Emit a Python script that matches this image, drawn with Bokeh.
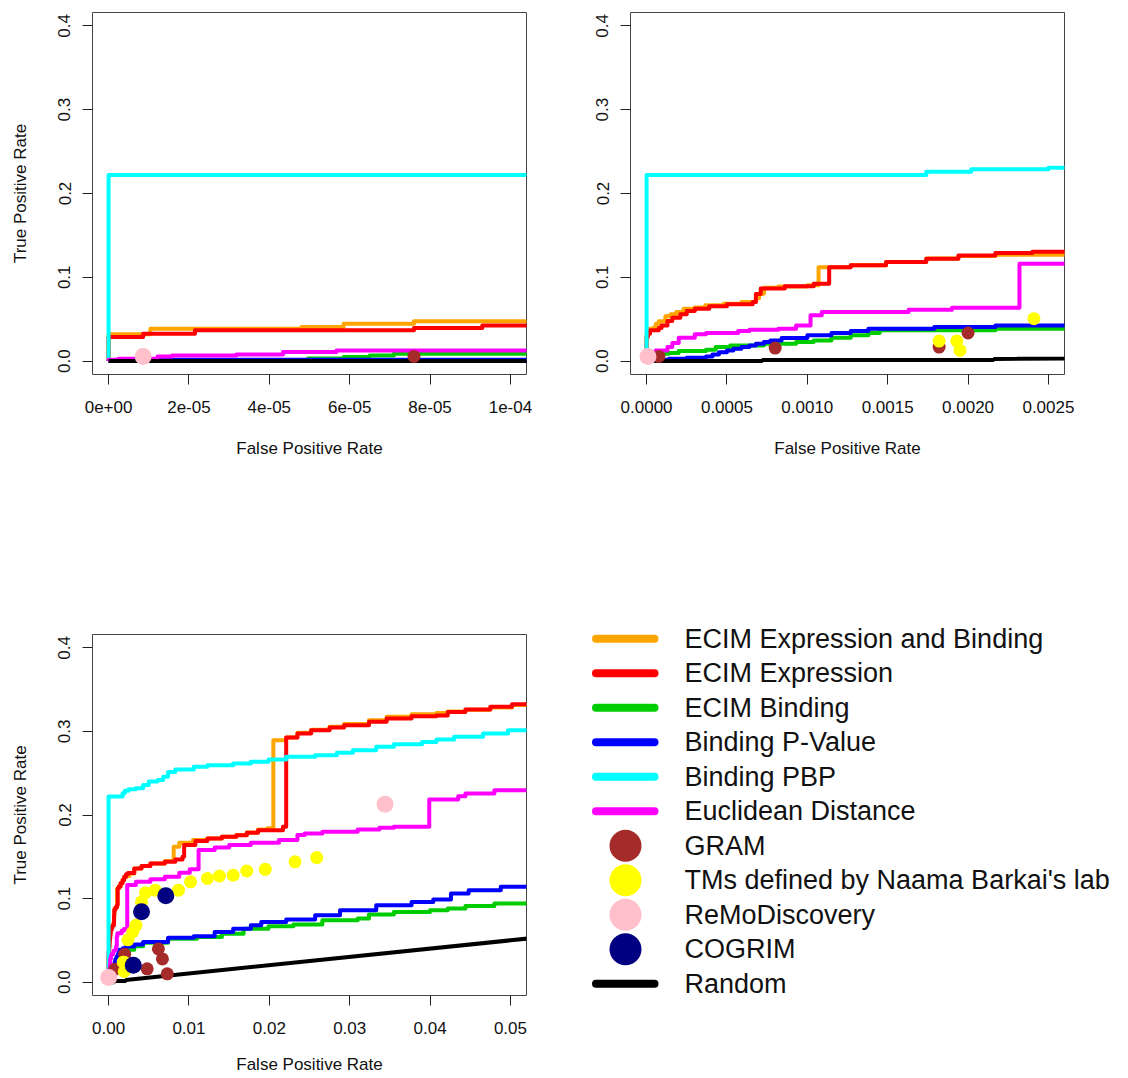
from bokeh.plotting import figure
from bokeh.layouts import row, column
from bokeh.models import Range1d, FixedTicker
from bokeh.core.properties import value
from bokeh.embed import file_html
from bokeh.resources import INLINE

# ---------------- data ----------------
ORANGE_X = [0, 0, 1.04e-5, 4.8e-5, 5.85e-5, 7.6e-5, 1.17e-4, 1.5e-4, 1.85e-4, 2.3e-4, 3.0e-4, 3.65e-4,
            4.8e-4, 5.9e-4, 6.8e-4, 7.0e-4, 7.3e-4, 8.2e-4, 1.0e-3, 1.07e-3, 1.27e-3, 1.49e-3, 1.74e-3,
            1.94e-3, 2.17e-3, 2.6e-3, 3.2e-3, 4.1e-3, 5.2e-3, 7.0e-3, 8.1e-3, 8.8e-3, 1.05e-2, 1.23e-2,
            1.41e-2, 1.59e-2, 1.72e-2, 1.86e-2, 1.98e-2, 2.05e-2, 2.21e-2, 2.35e-2, 2.52e-2, 2.75e-2,
            2.93e-2, 3.24e-2, 3.46e-2, 3.77e-2, 4.08e-2, 4.22e-2, 4.44e-2, 4.75e-2, 5.02e-2, 5.3e-2]
ORANGE_Y = [0, 0.032, 0.0386, 0.0406, 0.0446, 0.0474, 0.0534, 0.056, 0.0586, 0.0625, 0.064, 0.0665,
            0.0685, 0.0705, 0.075, 0.0805, 0.0876, 0.089, 0.0904, 0.112, 0.1143, 0.1183, 0.1225,
            0.1255, 0.127, 0.13, 0.136, 0.139, 0.142, 0.145, 0.162, 0.1667, 0.17, 0.172,
            0.174, 0.176, 0.179, 0.1825, 0.184, 0.2895, 0.2927, 0.2985, 0.302, 0.3055,
            0.309, 0.3135, 0.3175, 0.3205, 0.322, 0.324, 0.326, 0.3285, 0.3315, 0.333]

RED_X = [0, 0, 8.6e-6, 2.15e-5, 7.6e-5, 9.3e-5, 1.3e-4, 1.6e-4, 2.1e-4, 2.5e-4, 3.0e-4, 3.9e-4, 5.0e-4,
         6.6e-4, 6.8e-4, 7.1e-4, 8.6e-4, 1.04e-3, 1.136e-3, 1.27e-3, 1.49e-3, 1.74e-3, 1.94e-3,
         2.17e-3, 2.4e-3, 3.2e-3, 4.1e-3, 5.2e-3, 7.0e-3, 8.3e-3, 9.2e-3, 9.4e-3, 1.08e-2, 1.23e-2,
         1.41e-2, 1.59e-2, 1.72e-2, 1.86e-2, 2.17e-2, 2.21e-2, 2.35e-2, 2.52e-2, 2.75e-2, 2.93e-2,
         3.24e-2, 3.46e-2, 3.77e-2, 4.08e-2, 4.22e-2, 4.44e-2, 4.75e-2, 5.02e-2, 5.3e-2]
RED_Y = [0, 0.0287, 0.0327, 0.0367, 0.0394, 0.0426, 0.0478, 0.0518, 0.0558, 0.0598, 0.0625, 0.0653, 0.0677,
         0.0705, 0.08, 0.0865, 0.0892, 0.0924, 0.112, 0.1143, 0.1183, 0.122, 0.126,
         0.129, 0.1305, 0.136, 0.139, 0.142, 0.144, 0.1467, 0.15, 0.164, 0.169, 0.172,
         0.174, 0.1759, 0.1787, 0.1819, 0.186, 0.2927, 0.2975, 0.3015, 0.3047, 0.3075,
         0.3115, 0.3155, 0.3182, 0.319, 0.3234, 0.3262, 0.3294, 0.3326, 0.3354]

GREEN_X = [0, 4.96e-5, 5.85e-5, 6.5e-5, 7.1e-5, 1.4e-4, 2.0e-4, 3.7e-4, 4.3e-4, 5.2e-4, 7.3e-4, 9.3e-4,
           1.04e-3, 1.15e-3, 1.27e-3, 1.38e-3, 1.45e-3, 2.17e-3, 3.2e-3, 4.3e-3, 7.4e-3, 1.1e-2,
           1.41e-2, 1.68e-2, 1.99e-2, 2.3e-2, 2.66e-2, 3.1e-2, 3.24e-2, 3.55e-2, 4.0e-2, 4.22e-2,
           4.44e-2, 4.8e-2, 5.3e-2]
GREEN_Y = [0, 0.003, 0.005, 0.0068, 0.0088, 0.0096, 0.012, 0.0135, 0.0167, 0.0187, 0.0207, 0.0227,
           0.0247, 0.0279, 0.0307, 0.0335, 0.0367, 0.0386, 0.043, 0.047, 0.052, 0.054,
           0.058, 0.064, 0.067, 0.069, 0.074, 0.076, 0.081, 0.084, 0.086, 0.088,
           0.091, 0.094, 0.099]

BLUE_X = [0, 5e-6, 1.4e-4, 2.5e-4, 3.7e-4, 4.1e-4, 4.5e-4, 5.0e-4, 5.4e-4, 5.9e-4, 6.4e-4, 6.8e-4, 7.3e-4,
          7.7e-4, 8.4e-4, 1.0e-3, 1.15e-3, 1.27e-3, 1.38e-3, 1.79e-3, 2.17e-3, 3.2e-3, 4.3e-3,
          7.4e-3, 1.06e-2, 1.32e-2, 1.55e-2, 1.77e-2, 1.9e-2, 2.21e-2, 2.57e-2, 2.88e-2, 3.33e-2,
          3.77e-2, 4.04e-2, 4.26e-2, 4.48e-2, 4.88e-2, 5.3e-2]
BLUE_Y = [0, 0.0016, 0.0028, 0.004, 0.0056, 0.008, 0.0105, 0.0127, 0.0147, 0.0167, 0.0187, 0.0207, 0.0227,
          0.0247, 0.0275, 0.0307, 0.0335, 0.0359, 0.0386, 0.0406, 0.0426, 0.045, 0.048,
          0.053, 0.055, 0.06, 0.064, 0.068, 0.072, 0.075, 0.08, 0.086, 0.092,
          0.096, 0.099, 0.106, 0.110, 0.114, 0.118]

CYAN_X = [0, 0, 1.74e-3, 2.02e-3, 2.5e-3, 3.4e-3, 4.3e-3, 5.0e-3, 6.1e-3, 6.8e-3, 7.4e-3, 8.3e-3,
          1.06e-2, 1.23e-2, 1.55e-2, 1.77e-2, 1.99e-2, 2.21e-2, 2.57e-2, 2.84e-2, 3.04e-2, 3.33e-2,
          3.55e-2, 3.9e-2, 4.08e-2, 4.3e-2, 4.66e-2, 4.97e-2, 5.3e-2]
CYAN_Y = [0, 0.222, 0.226, 0.229, 0.2307, 0.232, 0.236, 0.24, 0.242, 0.2457, 0.2516, 0.2544,
          0.2576, 0.2596, 0.2616, 0.2636, 0.2664, 0.2696, 0.2716, 0.2744, 0.2776, 0.2816,
          0.2847, 0.2875, 0.2903, 0.2935, 0.2975, 0.3015, 0.3055]

MAGENTA_X = [0, 0, 2.4e-6, 1.22e-5, 1.58e-5, 3.18e-5, 4.34e-5, 5.67e-5, 1.3e-4, 1.6e-4, 2.0e-4, 3.0e-4,
             3.7e-4, 5.7e-4, 6.4e-4, 8.2e-4, 9.3e-4, 1.02e-3, 1.09e-3, 1.63e-3, 1.9e-3, 2.32e-3,
             3.4e-3, 5.2e-3, 7.0e-3, 8.8e-3, 1.01e-2, 1.12e-2, 1.32e-2, 1.5e-2, 1.77e-2, 2.12e-2,
             2.35e-2, 2.44e-2, 2.66e-2, 3.1e-2, 3.37e-2, 3.55e-2, 3.99e-2, 4.35e-2, 4.44e-2, 4.8e-2,
             5.3e-2]
MAGENTA_Y = [0, 0.0016, 0.0028, 0.0056, 0.0068, 0.008, 0.0108, 0.0127, 0.0167, 0.0215, 0.0279, 0.0319,
             0.0335, 0.0359, 0.0375, 0.0386, 0.0426, 0.0546, 0.0586, 0.0614, 0.0637, 0.1163,
             0.12, 0.123, 0.126, 0.131, 0.135, 0.158, 0.161, 0.164, 0.1667, 0.17,
             0.176, 0.178, 0.18, 0.1827, 0.1846, 0.1858, 0.2185, 0.2225, 0.2257, 0.2297,
             0.2345]

RANDOM_X = [0, 0.00072, 0.00072, 0.00216, 0.00216, 0.053]
RANDOM_Y = [0, 0, 0.0013, 0.0013, 0.0026, 0.053]

GRAM_X = [7.6e-5, 0.0008, 0.00182, 0.0020, 0.0048, 0.0062, 0.0067, 0.0073]
GRAM_Y = [0.0056, 0.0155, 0.0167, 0.0335, 0.0159, 0.0397, 0.0278, 0.0099]

TMS_X = [0.00182, 0.00193, 0.00195, 0.00241, 0.0030, 0.0034, 0.0041, 0.0046, 0.0058, 0.0087, 0.0102,
         0.0123, 0.0138, 0.0155, 0.0172, 0.0195, 0.0232, 0.0259]
TMS_Y = [0.0239, 0.0239, 0.0127, 0.0506, 0.060, 0.068, 0.096, 0.107, 0.110, 0.110, 0.120,
         0.124, 0.127, 0.128, 0.133, 0.135, 0.144, 0.149]

REMO_X = [8.6e-6, 0.0344]
REMO_Y = [0.0056, 0.213]

COGRIM_X = [0.00307, 0.0041, 0.00712]
COGRIM_Y = [0.0203, 0.0841, 0.1033]

Y_TICKS = [0.0, 0.1, 0.2, 0.3, 0.4]
Y_TICK_LABELS = ["0.0", "0.1", "0.2", "0.3", "0.4"]
X1_TICKS = [0, 2e-5, 4e-5, 6e-5, 8e-5, 1e-4]
X1_TICK_LABELS = ["0e+00", "2e-05", "4e-05", "6e-05", "8e-05", "1e-04"]
X2_TICKS = [0, 0.0005, 0.001, 0.0015, 0.002, 0.0025]
X2_TICK_LABELS = ["0.0000", "0.0005", "0.0010", "0.0015", "0.0020", "0.0025"]
X3_TICKS = [0, 0.01, 0.02, 0.03, 0.04, 0.05]
X3_TICK_LABELS = ["0.00", "0.01", "0.02", "0.03", "0.04", "0.05"]

LEGEND_LABELS = ["ECIM Expression and Binding", "ECIM Expression", "ECIM Binding", "Binding P-Value",
                 "Binding PBP", "Euclidean Distance", "GRAM", "TMs defined by Naama Barkai's lab",
                 "ReMoDiscovery", "COGRIM", "Random"]
LEGEND_KIND = ["line"] * 6 + ["point"] * 4 + ["line"]

# ---------------- styles ----------------
C_ORANGE, C_RED, C_GREEN, C_BLUE = "#FFA500", "#FF0000", "#00CD00", "#0000FF"
C_CYAN, C_MAGENTA, C_BROWN, C_YELLOW = "#00FFFF", "#FF00FF", "#A52A2A", "#FFFF00"
C_PINK, C_NAVY, C_BLACK = "#FFC0CB", "#000080", "#000000"
LEGEND_COLORS = [C_ORANGE, C_RED, C_GREEN, C_BLUE, C_CYAN, C_MAGENTA,
                 C_BROWN, C_YELLOW, C_PINK, C_NAVY, C_BLACK]
FONT = "Liberation Sans"
LW = 4

STEP_SERIES = [(ORANGE_X, ORANGE_Y, C_ORANGE), (RED_X, RED_Y, C_RED), (GREEN_X, GREEN_Y, C_GREEN),
               (BLUE_X, BLUE_Y, C_BLUE), (CYAN_X, CYAN_Y, C_CYAN), (MAGENTA_X, MAGENTA_Y, C_MAGENTA)]
POINT_SERIES = [(GRAM_X, GRAM_Y, C_BROWN, 13), (TMS_X, TMS_Y, C_YELLOW, 13),
                (REMO_X, REMO_Y, C_PINK, 17), (COGRIM_X, COGRIM_Y, C_NAVY, 17)]


def panel(width, height, xmax, xticks, xlabels, left, right, top, bottom, ytitle, title_standoff):
    pad = 0.04 * xmax
    p = figure(width=width, height=height, output_backend="svg", toolbar_location=None,
               x_range=Range1d(-pad, xmax + pad), y_range=Range1d(-0.016, 0.416),
               min_border_left=left, min_border_right=right, min_border_top=top,
               min_border_bottom=bottom)
    p.background_fill_color = "white"
    p.border_fill_color = "white"
    p.outline_line_color = "#444444"
    p.outline_line_width = 1
    p.xgrid.visible = False
    p.ygrid.visible = False
    for xs, ys, c in STEP_SERIES:
        p.step(xs, ys, mode="after", line_color=c, line_width=LW, line_join="round")
    p.line(RANDOM_X, RANDOM_Y, line_color=C_BLACK, line_width=LW)
    for xs, ys, c, s in POINT_SERIES:
        p.scatter(xs, ys, size=s, fill_color=c, line_color=None)

    p.xaxis.ticker = FixedTicker(ticks=xticks)
    p.xaxis.major_label_overrides = {t: l for t, l in zip(xticks, xlabels)}
    p.yaxis.ticker = FixedTicker(ticks=Y_TICKS)
    p.yaxis.major_label_overrides = {t: l for t, l in zip(Y_TICKS, Y_TICK_LABELS)}
    p.yaxis.major_label_orientation = "vertical"
    for ax in (p.xaxis[0], p.yaxis[0]):
        ax.axis_line_color = None
        ax.major_tick_in = 0
        ax.major_tick_out = 10
        ax.major_tick_line_color = "#222222"
        ax.minor_tick_line_color = None
        ax.major_label_text_font = FONT
        ax.major_label_text_font_size = "17px"
        ax.major_label_text_color = "#111111"
        ax.axis_label_text_font = FONT
        ax.axis_label_text_font_size = "17px"
        ax.axis_label_text_font_style = "normal"
        ax.axis_label_text_color = "#111111"
    p.xaxis.major_label_standoff = 16
    p.yaxis.major_label_standoff = 12
    p.xaxis.axis_label = "False Positive Rate"
    p.xaxis.axis_label_standoff = title_standoff
    if ytitle:
        p.yaxis.axis_label = "True Positive Rate"
        p.yaxis.axis_label_standoff = 26
    return p


p1 = panel(580, 560, 1e-4, X1_TICKS, X1_TICK_LABELS, 92, 54, 12, 186, True, 23)
p2 = panel(540, 560, 0.0025, X2_TICKS, X2_TICK_LABELS, 50, 56, 12, 186, False, 23)
p3 = panel(580, 518, 0.05, X3_TICKS, X3_TICK_LABELS, 92, 54, 74, 83, True, 18)

# ---------------- legend panel ----------------
# whole canvas is the frame: canvas top is at page y 560, rows 34.5 px apart starting at y 638.3
N = len(LEGEND_LABELS)
ROW_PX = 34.5
TOP_OFF = 78.3
H4 = 518
p4 = figure(width=540, height=H4, output_backend="svg", toolbar_location=None,
            x_range=Range1d(0, 540),
            y_range=Range1d((H4 - TOP_OFF) / ROW_PX, -TOP_OFF / ROW_PX),
            x_axis_location=None, y_axis_location=None,
            min_border_left=0, min_border_right=0, min_border_top=0, min_border_bottom=0)
p4.outline_line_color = None
p4.xgrid.visible = False
p4.ygrid.visible = False
p4.background_fill_color = "white"
p4.border_fill_color = "white"
idx = list(range(N))
line_i = [i for i in idx if LEGEND_KIND[i] == "line"]
pt_i = [i for i in idx if LEGEND_KIND[i] == "point"]
p4.segment(x0=15.5, x1=74, y0=line_i, y1=line_i, line_width=8, line_cap="round",
           line_color=[LEGEND_COLORS[i] for i in line_i])
p4.scatter(x=[45] * len(pt_i), y=pt_i, size=32, line_color=None,
           fill_color=[LEGEND_COLORS[i] for i in pt_i])
p4.text(x=[104] * N, y=idx, text=LEGEND_LABELS, text_font=value(FONT), text_font_size="27px",
        text_baseline="middle", text_align="left", text_color="#111111")

layout = column(row(p1, p2), row(p3, column(p4)))
open("out.html", "w").write(file_html(layout, INLINE))
